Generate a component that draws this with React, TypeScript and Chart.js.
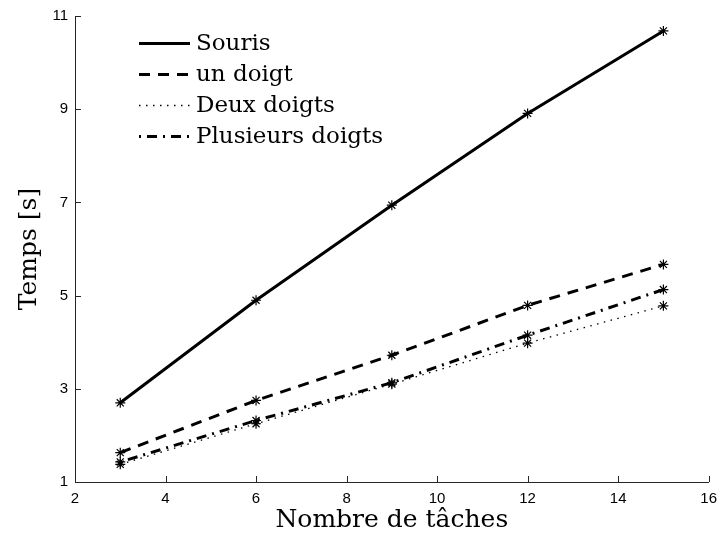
import React, { useEffect, useRef } from "react";
import { Chart, registerables } from "chart.js";

Chart.register(...registerables);

const tasks = [3, 6, 9, 12, 15];
const souris = [2.7, 4.9, 6.94, 8.91, 10.68];
const unDoigt = [1.63, 2.75, 3.72, 4.79, 5.67];
const deuxDoigts = [1.38, 2.25, 3.1, 3.98, 4.78];
const plusieursDoigts = [1.43, 2.32, 3.13, 4.15, 5.13];
const seriesLabels = ["Souris", "un doigt", "Deux doigts", "Plusieurs doigts"];
const xTicks = [2, 4, 6, 8, 10, 12, 14, 16];
const yTicks = [1, 3, 5, 7, 9, 11];
const xTitle = "Nombre de tâches";
const yTitle = "Temps [s]";

const seriesValues = [souris, unDoigt, deuxDoigts, plusieursDoigts];
const seriesDash = [[], [11, 8], [1.5, 5.5], [2, 6, 10, 6]];
const seriesWidth = [3, 3, 1.3, 3];

const innerTicks = {
  id: "innerTicks",
  afterDatasetsDraw(chart: any) {
    const { ctx, chartArea, scales } = chart;
    ctx.save();
    ctx.strokeStyle = "#262626";
    ctx.lineWidth = 1;
    ctx.beginPath();
    xTicks.forEach((v) => {
      const px = Math.round(scales.x.getPixelForValue(v)) + 0.5;
      ctx.moveTo(px, chartArea.bottom);
      ctx.lineTo(px, chartArea.bottom - 6);
    });
    yTicks.forEach((v) => {
      const py = Math.round(scales.y.getPixelForValue(v)) + 0.5;
      ctx.moveTo(chartArea.left, py);
      ctx.lineTo(chartArea.left + 6, py);
    });
    ctx.stroke();
    ctx.restore();
  },
};

const innerLegend = {
  id: "innerLegend",
  afterDraw(chart: any) {
    const { ctx } = chart;
    ctx.save();
    chart.data.datasets.forEach((ds: any, i: number) => {
      const y = 43.5 + i * 31;
      ctx.strokeStyle = "#000";
      ctx.lineWidth = ds.borderWidth;
      ctx.setLineDash(ds.borderDash || []);
      ctx.beginPath();
      ctx.moveTo(139, y);
      ctx.lineTo(190, y);
      ctx.stroke();
      ctx.setLineDash([]);
      ctx.fillStyle = "#000";
      ctx.font = '23px "DejaVu Serif"';
      ctx.textBaseline = "middle";
      ctx.textAlign = "left";
      ctx.fillText(ds.label, 196, y + 1);
    });
    ctx.restore();
  },
};

export default function App() {
  const ref = useRef<HTMLCanvasElement | null>(null);
  useEffect(() => {
    if (!ref.current) return;
    const chart = new Chart(ref.current, {
      type: "line",
      data: {
        datasets: seriesValues.map((vals, i) => ({
          label: seriesLabels[i],
          data: tasks.map((t, j) => ({ x: t, y: vals[j] })),
          borderColor: "#000",
          backgroundColor: "#000",
          borderWidth: seriesWidth[i],
          borderDash: seriesDash[i],
          pointStyle: "star",
          pointRadius: 5,
          pointBorderWidth: 1.2,
          pointBorderColor: "#000",
          tension: 0,
          fill: false,
        })),
      },
      plugins: [innerTicks, innerLegend],
      options: {
        animation: false,
        responsive: false,
        devicePixelRatio: 1,
        layout: { padding: { top: 16, right: 15, left: 0, bottom: 0 } },
        plugins: { legend: { display: false }, tooltip: { enabled: false } },
        scales: {
          x: {
            type: "linear",
            min: 2,
            max: 16,
            afterFit: (s: any) => {
              s.height = 54;
            },
            afterBuildTicks: (s: any) => {
              s.ticks = xTicks.map((v) => ({ value: v }));
            },
            grid: { display: false, drawTicks: false },
            border: { display: true, color: "#262626", width: 1 },
            ticks: {
              color: "#000",
              font: { family: '"Liberation Sans", Arial', size: 15 },
              padding: 8,
              maxRotation: 0,
              autoSkip: false,
            },
            title: {
              display: true,
              text: xTitle,
              color: "#000",
              font: { family: '"DejaVu Serif"', size: 25, lineHeight: 1.2 },
              padding: { top: 0, bottom: 1 },
            },
          },
          y: {
            type: "linear",
            min: 1,
            max: 11,
            afterFit: (s: any) => {
              s.width = 75;
            },
            afterBuildTicks: (s: any) => {
              s.ticks = yTicks.map((v) => ({ value: v }));
            },
            grid: { display: false, drawTicks: false },
            border: { display: true, color: "#262626", width: 1 },
            ticks: {
              color: "#000",
              font: { family: '"Liberation Sans", Arial', size: 15 },
              padding: 7,
              autoSkip: false,
            },
            title: {
              display: true,
              text: yTitle,
              color: "#000",
              font: { family: '"DejaVu Serif"', size: 25, lineHeight: 1.2 },
              padding: { top: 14, bottom: 0 },
            },
          },
        },
      },
    } as any);
    return () => chart.destroy();
  }, []);
  return (
    <div style={{ position: "fixed", left: 0, top: 0, width: 725, height: 536, background: "#fff" }}>
      <canvas ref={ref} width={725} height={536} style={{ width: 725, height: 536, display: "block" }} />
    </div>
  );
}
